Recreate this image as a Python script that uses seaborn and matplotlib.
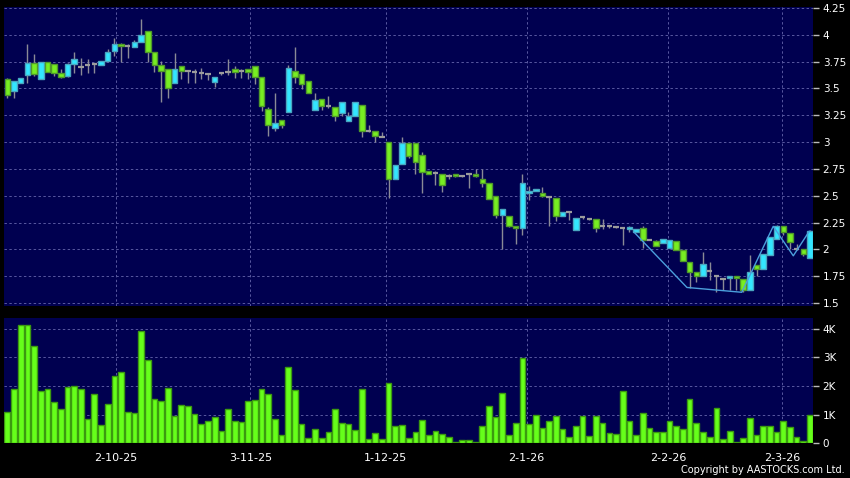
import numpy as np
import pandas as pd
import matplotlib
matplotlib.use("Agg")
import matplotlib.pyplot as plt
import seaborn as sns

# ---------------------------------------------------------------
# DATA
# ---------------------------------------------------------------
opens = [3.59, 3.48, 3.555, 3.625, 3.74, 3.59, 3.75, 3.73, 3.645, 3.62,
         3.73, 3.70, 3.72, 3.73, 3.72, 3.755, 3.845, 3.915, 3.90, 3.89,
         3.93, 4.04, 3.84, 3.72, 3.685, 3.555, 3.705, 3.665, 3.65, 3.64,
         3.635, 3.56, 3.64, 3.655, 3.685, 3.665, 3.685, 3.705, 3.61, 3.31,
         3.13, 3.205, 3.285, 3.665, 3.635, 3.57, 3.295, 3.405, 3.34, 3.33,
         3.275, 3.195, 3.245, 3.35, 3.10, 3.105, 3.05, 3.005, 2.66, 2.80,
         2.99, 2.995, 2.88, 2.735, 2.715, 2.705, 2.68, 2.705, 2.68, 2.705,
         2.705, 2.655, 2.615, 2.50, 2.32, 2.315, 2.215, 2.195, 2.525, 2.545,
         2.525, 2.485, 2.48, 2.31, 2.345, 2.18, 2.30, 2.285, 2.28, 2.215,
         2.215, 2.205, 2.195, 2.19, 2.16, 2.195, 2.09, 2.075, 2.06, 2.015,
         2.075, 1.99, 1.885, 1.79, 1.75, 1.80, 1.755, 1.72, 1.735, 1.75,
         1.72, 1.625, 1.855, 1.815, 1.95, 2.10, 2.22, 2.155, 2.005, 2.005,
         1.92]
highs = [3.60, 3.565, 3.60, 3.91, 3.825, 3.75, 3.75, 3.73, 3.68, 3.74,
         3.84, 3.785, 3.77, 3.74, 3.76, 3.87, 3.97, 3.92, 3.915, 3.95,
         4.15, 4.04, 3.84, 3.755, 3.685, 3.835, 3.705, 3.665, 3.68, 3.695,
         3.64, 3.61, 3.65, 3.77, 3.71, 3.685, 3.685, 3.705, 3.61, 3.33,
         3.455, 3.205, 3.715, 3.89, 3.635, 3.57, 3.455, 3.405, 3.43, 3.33,
         3.375, 3.28, 3.375, 3.35, 3.155, 3.105, 3.09, 3.005, 2.79, 3.05,
         2.99, 2.995, 2.91, 2.735, 2.73, 2.705, 2.70, 2.705, 2.68, 2.71,
         2.75, 2.745, 2.615, 2.50, 2.375, 2.315, 2.215, 2.705, 2.59, 2.565,
         2.585, 2.485, 2.48, 2.35, 2.35, 2.29, 2.315, 2.29, 2.28, 2.28,
         2.22, 2.21, 2.20, 2.215, 2.19, 2.22, 2.09, 2.09, 2.10, 2.085,
         2.075, 1.99, 1.885, 1.79, 1.975, 1.88, 1.76, 1.72, 1.75, 1.75,
         1.72, 1.95, 1.855, 1.955, 2.12, 2.225, 2.22, 2.155, 2.05, 2.005,
         2.18]
lows = [3.41, 3.41, 3.555, 3.555, 3.62, 3.59, 3.65, 3.615, 3.60, 3.61,
        3.645, 3.625, 3.645, 3.645, 3.72, 3.755, 3.80, 3.745, 3.785, 3.89,
        3.93, 3.75, 3.655, 3.375, 3.41, 3.555, 3.585, 3.555, 3.555, 3.585,
        3.58, 3.51, 3.625, 3.625, 3.60, 3.60, 3.585, 3.54, 3.29, 3.055,
        3.10, 3.135, 3.285, 3.55, 3.495, 3.455, 3.295, 3.30, 3.32, 3.20,
        3.245, 3.195, 3.245, 3.05, 3.095, 3.005, 3.045, 2.475, 2.66, 2.80,
        2.855, 2.705, 2.53, 2.70, 2.60, 2.535, 2.655, 2.675, 2.675, 2.57,
        2.675, 2.585, 2.465, 2.295, 2.00, 2.21, 2.05, 2.135, 2.46, 2.545,
        2.49, 2.22, 2.26, 2.31, 2.27, 2.18, 2.28, 2.27, 2.165, 2.19,
        2.20, 2.195, 2.045, 2.16, 2.16, 2.01, 2.085, 2.03, 2.06, 2.015,
        1.99, 1.89, 1.64, 1.70, 1.75, 1.71, 1.60, 1.62, 1.62, 1.62,
        1.60, 1.625, 1.75, 1.815, 1.95, 2.10, 2.13, 2.00, 1.99, 1.935,
        1.92]
closes = [3.44, 3.565, 3.60, 3.74, 3.635, 3.75, 3.655, 3.64, 3.61, 3.73,
          3.77, 3.70, 3.72, 3.73, 3.76, 3.84, 3.915, 3.90, 3.90, 3.93,
          3.995, 3.84, 3.72, 3.665, 3.50, 3.685, 3.665, 3.665, 3.65, 3.64,
          3.635, 3.61, 3.64, 3.655, 3.655, 3.665, 3.65, 3.61, 3.34, 3.155,
          3.175, 3.155, 3.69, 3.61, 3.545, 3.455, 3.39, 3.34, 3.34, 3.24,
          3.37, 3.245, 3.375, 3.10, 3.10, 3.055, 3.05, 2.66, 2.79, 2.995,
          2.875, 2.81, 2.725, 2.705, 2.715, 2.60, 2.68, 2.68, 2.68, 2.705,
          2.68, 2.615, 2.465, 2.325, 2.375, 2.215, 2.195, 2.62, 2.54, 2.565,
          2.495, 2.485, 2.31, 2.345, 2.345, 2.29, 2.30, 2.285, 2.195, 2.215,
          2.215, 2.205, 2.195, 2.21, 2.19, 2.09, 2.09, 2.03, 2.10, 2.085,
          1.99, 1.89, 1.79, 1.75, 1.86, 1.80, 1.755, 1.72, 1.75, 1.735,
          1.625, 1.79, 1.815, 1.955, 2.12, 2.22, 2.165, 2.07, 2.005, 1.955,
          2.17]
volumes_k = [1.08, 1.89, 4.14, 4.14, 3.40, 1.83, 1.90, 1.46, 1.19, 1.98,
             2.00, 1.90, 0.84, 1.72, 0.64, 1.38, 2.35, 2.48, 1.08, 1.07,
             3.92, 2.91, 1.55, 1.49, 1.92, 0.94, 1.34, 1.32, 1.03, 0.66,
             0.78, 0.93, 0.42, 1.19, 0.79, 0.75, 1.47, 1.53, 1.91, 1.71,
             0.84, 0.29, 2.65, 1.85, 0.66, 0.20, 0.50, 0.17, 0.41, 1.19,
             0.71, 0.66, 0.47, 1.89, 0.14, 0.35, 0.14, 2.10, 0.62, 0.65,
             0.19, 0.38, 0.80, 0.29, 0.43, 0.31, 0.23, 0.03, 0.12, 0.13,
             0.06, 0.61, 1.31, 0.93, 1.76, 0.29, 0.70, 2.98, 0.69, 0.99,
             0.54, 0.78, 0.96, 0.50, 0.22, 0.62, 0.96, 0.26, 0.96, 0.70,
             0.35, 0.33, 1.83, 0.78, 0.29, 1.05, 0.52, 0.41, 0.38, 0.78,
             0.62, 0.51, 1.55, 0.72, 0.38, 0.22, 1.22, 0.16, 0.44, 0.03,
             0.19, 0.87, 0.28, 0.62, 0.61, 0.41, 0.78, 0.56, 0.22, 0.07,
             0.98]

date_pos = [16.2, 36.35, 56.6, 77.65, 98.75, 115.85]
date_labels = ["2-10-25", "3-11-25", "1-12-25", "2-1-26", "2-2-26", "2-3-26"]

# zigzag swing line drawn over the last weeks
zigzag_x = [93.7, 101.6, 109.8, 114.5, 117.5, 119.9]
zigzag_y = [2.16, 1.645, 1.60, 2.215, 1.94, 2.17]

price_ticks = [1.5, 1.75, 2.0, 2.25, 2.5, 2.75, 3.0, 3.25, 3.5, 3.75, 4.0, 4.25]
vol_ticks = [0, 1, 2, 3, 4]

# ---------------------------------------------------------------
# STYLE
# ---------------------------------------------------------------
NAVY = "#000050"
UP_FILL, UP_EDGE = "#33e6ff", "#4aa6c0"
DN_FILL, DN_EDGE = "#77ee22", "#4f9a2a"
DOJI = "#9c9c9c"
WICK = "#8a8a96"
GRID = "#5858a0"

sns.set_style("dark", {"axes.facecolor": NAVY, "figure.facecolor": "black"})
plt.rcParams["font.family"] = ["DejaVu Sans"]

fig = plt.figure(figsize=(8.5, 4.78), dpi=100)
ax_p = fig.add_axes([0.0047, 0.3598, 0.9518, 0.6266])
ax_v = fig.add_axes([0.0047, 0.0726, 0.9518, 0.2615])

o = np.array(opens)
h = np.array(highs)
l = np.array(lows)
c = np.array(closes)
idx = np.arange(len(o))

# ---------------------------------------------------------------
# PRICE PANEL
# ---------------------------------------------------------------
ax_p.vlines(idx, l, h, color=WICK, linewidth=1, zorder=2)
up = c > o
dn = c < o
flat = c == o
body_w = 0.82
ax_p.bar(idx[up], (c - o)[up], bottom=o[up], width=body_w,
         color=UP_FILL, edgecolor=UP_EDGE, linewidth=1, zorder=3)
ax_p.bar(idx[dn], (o - c)[dn], bottom=c[dn], width=body_w,
         color=DN_FILL, edgecolor=DN_EDGE, linewidth=1, zorder=3)
ax_p.hlines(o[flat], idx[flat] - body_w / 2, idx[flat] + body_w / 2,
            color=DOJI, linewidth=1.6, zorder=3)
sns.lineplot(x=zigzag_x, y=zigzag_y, ax=ax_p, color="#4b9fdc",
             linewidth=1, sort=False, zorder=4)

ax_p.set_xlim(-0.5, 120.45)
ax_p.set_ylim(1.472, 4.264)
ax_p.set_xticks(date_pos)
ax_p.set_yticks(price_ticks)
ax_p.set_yticklabels([f"{t:g}" for t in price_ticks])
ax_p.tick_params(axis="x", length=0, labelbottom=False)

# ---------------------------------------------------------------
# VOLUME PANEL
# ---------------------------------------------------------------
vol_df = pd.DataFrame({"idx": idx, "vol": volumes_k})
sns.barplot(data=vol_df, x="idx", y="vol", ax=ax_v, native_scale=True,
            color="#66ff1a", edgecolor="#3c9a10", linewidth=1,
            width=0.85, saturation=1, errorbar=None, zorder=3)
ax_v.set_xlim(-0.5, 120.45)
ax_v.set_ylim(0, 4.37)
ax_v.set_xticks(date_pos)
ax_v.set_xticklabels(date_labels)
ax_v.set_yticks(vol_ticks)
ax_v.set_yticklabels(["0"] + [f"{t}K" for t in vol_ticks[1:]])
ax_v.set_xlabel("")
ax_v.set_ylabel("")

for ax in (ax_p, ax_v):
    ax.set_facecolor(NAVY)
    for s in ax.spines.values():
        s.set_visible(False)
    ax.yaxis.tick_right()
    ax.tick_params(axis="y", colors="#bbbbbb", labelcolor="white",
                   length=4, width=1, pad=3, labelsize=7.5, left=False)
    ax.grid(True, color=GRID, linestyle=(0, (2.5, 2.5)), linewidth=0.7)
    ax.set_axisbelow(True)

ax_v.tick_params(axis="x", colors="#bbbbbb", labelcolor="white",
                 length=4, width=1, pad=3, labelsize=8)

fig.text(0.994, 0.006, "Copyright by AASTOCKS.com Ltd.", color="white",
         fontsize=7, ha="right", va="bottom")

fig.savefig("out.png", dpi=100, facecolor="black")
